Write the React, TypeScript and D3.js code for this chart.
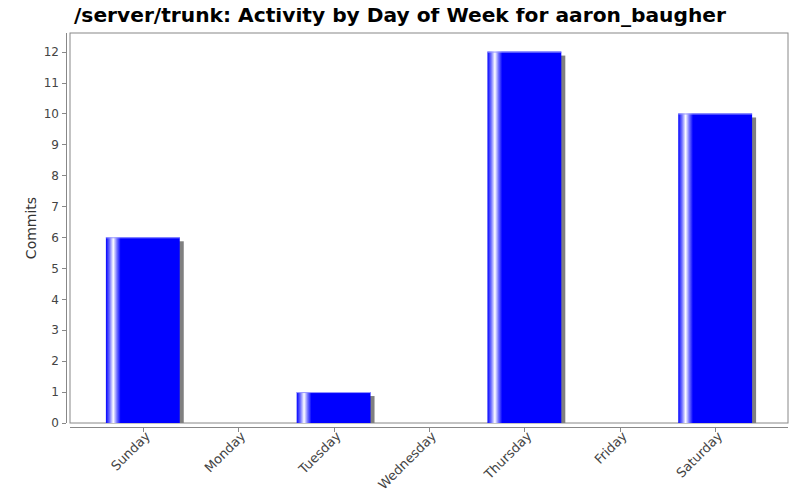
import React from 'react'
import * as d3 from 'd3'

const days = ['Sunday', 'Monday', 'Tuesday', 'Wednesday', 'Thursday', 'Friday', 'Saturday']
const commits = [6, 0, 1, 0, 12, 0, 10]
const yTicks = [0, 1, 2, 3, 4, 5, 6, 7, 8, 9, 10, 11, 12]

const W = 800
const H = 500
const left = 70
const right = 788
const top = 33
const bottom = 423
const font = 'DejaVu Sans, sans-serif'

const App: React.FC = () => {
  // 5% margins on each side, 20% of the width shared between the 6 gaps
  const gap = 0.2 / 6
  const bar = 0.8 / 7
  const x = d3.scaleBand<string>()
    .domain(days)
    .range([left + (right - left) * 0.05, right - (right - left) * 0.05])
    .paddingInner(gap / (gap + bar))
    .paddingOuter(0)

  const y = d3.scaleLinear().domain([0, 12.6]).range([bottom, top])

  return (
    <svg width={W} height={H} style={{ display: 'block', margin: -8 }} fontFamily={font}>
      <defs>
        <linearGradient id="barGrad" x1="0" x2="1" y1="0" y2="0">
          <stop offset="0" stopColor="#0000ff" />
          <stop offset="0.05" stopColor="#7070ff" />
          <stop offset="0.1" stopColor="#ffffff" />
          <stop offset="0.15" stopColor="#7070ff" />
          <stop offset="0.2" stopColor="#0000ff" />
          <stop offset="1" stopColor="#0000ff" />
        </linearGradient>
      </defs>
      <rect width={W} height={H} fill="#fff" />
      <text x={74} y={22} fontSize={20.2} fontWeight="bold" fill="#000">
        /server/trunk: Activity by Day of Week for aaron_baugher
      </text>

      {/* plot frame */}
      <rect x={left} y={top} width={right - left} height={bottom - top} fill="#fff" stroke="#888" strokeWidth={1} />

      {/* bars with shadow */}
      {days.map((d, i) => {
        const v = commits[i]
        if (!v) return null
        const bx = x(d)!
        const bw = x.bandwidth()
        const by = y(v)
        return (
          <g key={d}>
            <rect x={bx + 4} y={by + 4} width={bw} height={bottom - by - 4} fill="#808080" />
            <rect x={bx} y={by} width={bw} height={bottom - by} fill="url(#barGrad)" />
            <line x1={bx} x2={bx + bw} y1={by + 0.5} y2={by + 0.5} stroke="#9a9aff" strokeWidth={1} />
          </g>
        )
      })}

      {/* y axis */}
      <line x1={66.5} x2={66.5} y1={top} y2={bottom} stroke="#888" />
      {yTicks.map(t => (
        <g key={t}>
          <line x1={62} x2={66} y1={Math.round(y(t)) + 0.5} y2={Math.round(y(t)) + 0.5} stroke="#888" />
          <text x={59} y={y(t)} dy="0.36em" textAnchor="end" fontSize={12} fill="#444">{t}</text>
        </g>
      ))}
      <text transform={`translate(36,${(top + bottom) / 2}) rotate(-90)`} textAnchor="middle" fontSize={14} fill="#333">
        Commits
      </text>

      {/* x axis */}
      <line x1={left} x2={right} y1={427.5} y2={427.5} stroke="#888" />
      {days.map(d => {
        const cx = x(d)! + x.bandwidth() / 2
        return (
          <g key={d}>
            <line x1={Math.round(cx) + 0.5} x2={Math.round(cx) + 0.5} y1={428} y2={432} stroke="#888" />
            <text transform={`translate(${cx + 8},${437}) rotate(-45)`} textAnchor="end" fontSize={13} fill="#444">
              {d}
            </text>
          </g>
        )
      })}
    </svg>
  )
}

export default App
